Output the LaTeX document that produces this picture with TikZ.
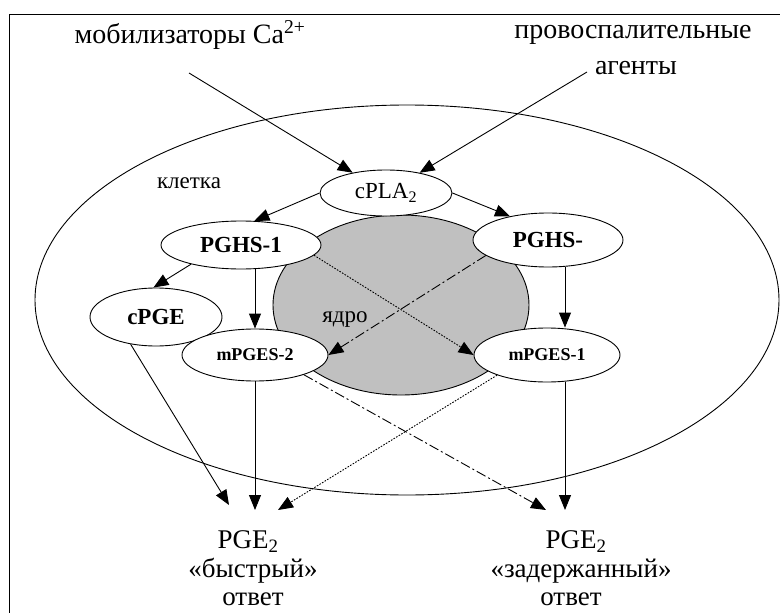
\documentclass[tikz,border=0pt]{standalone}
\usepackage{fontspec}
\setmainfont{Liberation Serif}
\usetikzlibrary{arrows.meta,shapes.geometric,calc}
\definecolor{nucgray}{RGB}{192,192,192}
\begin{document}
\begin{tikzpicture}[x=1pt,y=-1pt,
  ln/.style={line width=0.9pt},
  arr/.style={ln,-{Triangle[length=15pt,width=12pt]}},
  ell/.style={draw,ellipse,inner sep=0pt,line width=0.9pt,fill=white},
  dotl/.style={dash pattern=on 1.6pt off 1.4pt},
  dashdot/.style={dash pattern=on 10pt off 3pt on 2pt off 3pt},
  big/.style={font=\fontsize{28}{28}\selectfont},
  outt/.style={font=\fontsize{27}{27}\selectfont,inner sep=0pt},
  mid/.style={font=\fontsize{23}{26}\selectfont},
  midb/.style={font=\fontsize{23}{26}\selectfont\bfseries},
  smallb/.style={font=\fontsize{18}{20}\selectfont\bfseries},
]
\useasboundingbox (0,0) rectangle (780,613);
\fill[white] (0,0) rectangle (780,613);
\draw[ln] (785,14) -- (9,14) -- (9,620);

% cell and nucleus
\node[draw,ellipse,line width=0.9pt,inner sep=0pt,minimum width=744pt,minimum height=390pt] (cell) at (407,300) {};
\node[draw,ellipse,line width=0.9pt,inner sep=0pt,fill=nucgray,minimum width=256pt,minimum height=180pt] (nuc) at (401,305) {};

% texts
\node[big] (mob) at (190,35) {мобилизаторы Ca\textsuperscript{2+}};
\node[big] (prov) at (633,35) {провоспалительные};
\node[big] (agen) at (636,68) {агенты};
\node[mid] (kl) at (189,183) {клетка};
\node[mid] (yad) at (345,320) {ядро};

% enzyme nodes
\node[ell,mid,minimum width=132pt,minimum height=46pt] (cpla) at (386,193) {cPLA\textsubscript{2}};
\node[ell,midb,minimum width=160pt,minimum height=48pt] (pghs1) at (241,245) {PGHS-1};
\node[ell,midb,minimum width=150pt,minimum height=54pt] (pghs2) at (548,240) {PGHS-};
\node[ell,midb,minimum width=132pt,minimum height=58pt] (cpge) at (156,317) {cPGE};
\node[ell,smallb,minimum width=146pt,minimum height=52pt] (mpges2) at (255,355) {mPGES-2};
\node[ell,smallb,minimum width=146pt,minimum height=54pt] (mpges1) at (547,355) {mPGES-1};

% outputs
\node[outt] (pge1) at (248,542) {PGE\textsubscript{2}};
\node[outt] (fast) at (253,571) {«быстрый»};
\node[outt] (ans1) at (253,599) {ответ};
\node[outt] (pge2) at (576,542) {PGE\textsubscript{2}};
\node[outt] (slow) at (581,571) {«задержанный»};
\node[outt] (ans2) at (571,599) {ответ};

\coordinate (s1) at (189,73);
\coordinate (s2) at (587,72);
\coordinate (v2) at (565,0);
\coordinate (t1) at (229,505);
\coordinate (t2) at (255,510);
\coordinate (t3) at (278,510);
\coordinate (t4) at (546,510);
\coordinate (t5) at (565,510);

% connectors
\draw[arr] (s1) -- (cpla);
\draw[arr] (s2) -- (cpla);
\draw[arr] (cpla.west) -- (pghs1.61);
\draw[arr] (cpla.east) -- (pghs2.148);
\draw[arr] (pghs1.201) -- (cpge.95);
\draw[arr] (mpges2.north |- pghs1.south) -- (mpges2.north);
\draw[arr] (v2 |- pghs2.south) -- (v2 |- mpges1.north);
\draw[arr,dotl] (pghs1.352) -- (mpges1.west);
\draw[arr,dashdot] (pghs2.194) -- (mpges2.east);

\draw[arr] (cpge.227) -- (t1);
\draw[arr] (mpges2.south) -- (t2);
\draw[arr,dotl] (mpges1.202) -- (t3);
\draw[arr,dashdot] (mpges2.338) -- (t4);
\draw[arr] (v2 |- mpges1.south) -- (t5);
\end{tikzpicture}
\end{document}
